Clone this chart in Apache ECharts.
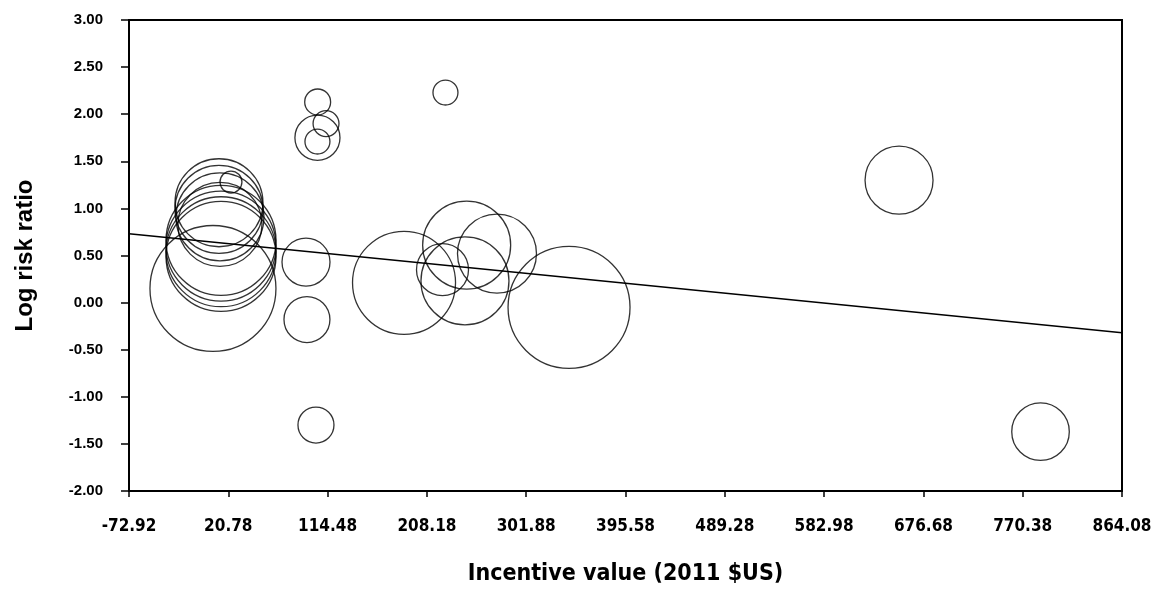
<!DOCTYPE html>
<html>
<head>
<meta charset="utf-8">
<script src="https://cdn.jsdelivr.net/npm/echarts@6/dist/echarts.min.js"></script>
<style>
  html, body { margin: 0; padding: 0; background: #fff; }
  #chart { width: 1156px; height: 591px; }
</style>
</head>
<body>
<div id="chart"></div>
<script>
// Study-level incentive value (2011 $US) and log risk ratio, with study weight
const incentiveValue = [
  6.3, 13.9, 13.9, 13.9, 13.9, 12.0, 12.0, 12.9, 12.9, 23.3,
  105.1, 104.9, 104.9, 113.0, 225.7,
  94.1, 95.0, 103.5,
  186.6, 222.9, 245.7, 244.1, 274.3, 342.3,
  653.7, 787.2
];
const logRiskRatio = [
  0.15, 0.49, 0.54, 0.60, 0.66, 1.06, 0.99, 0.91, 0.83, 1.28,
  2.13, 1.75, 1.71, 1.90, 2.23,
  0.43, -0.18, -1.30,
  0.21, 0.35, 0.61, 0.23, 0.52, -0.05,
  1.30, -1.37
];
const studyWeight = [
  99.2, 75.6, 75.6, 75.6, 75.6, 48.4, 48.4, 48.4, 44.1, 3.0,
  4.2, 12.7, 3.9, 4.2, 3.9,
  14.4, 13.2, 8.1,
  66.3, 16.9, 48.4, 48.4, 39.0, 93.0,
  28.9, 20.7
];

// Fitted meta-regression line at both ends of the axis
const fitX = [-72.92, 864.08];
const fitY = [0.73, -0.32];

// Axis range and tick spacing
const xStart = -72.92;
const xEnd = 864.08;
const xStep = 93.7;
const yStart = -2;
const yEnd = 3;
const yStep = 0.5;

// The x axis is laid out relative to its first tick so ticks land on xStart + k*xStep
const shift = v => v - xStart;

const points = incentiveValue.map((x, i) => [shift(x), logRiskRatio[i], studyWeight[i]]);
const fitLine = fitX.map((x, i) => [shift(x), fitY[i]]);

const chart = echarts.init(document.getElementById('chart'), null, { renderer: 'canvas' });

const labelFont = '"Liberation Sans", Arial, sans-serif';
const narrowFont = '"DejaVu Sans Condensed", "Liberation Sans", sans-serif';

chart.setOption({
  animation: false,
  backgroundColor: '#ffffff',
  grid: {
    left: 129, right: 34, top: 20, bottom: 97,
    show: true, borderColor: '#000', borderWidth: 2, backgroundColor: 'transparent'
  },
  xAxis: {
    type: 'value',
    min: 0,
    max: shift(xEnd),
    interval: xStep,
    name: 'Incentive value (2011 $US)',
    nameLocation: 'middle',
    nameGap: 72,
    nameTextStyle: { fontFamily: narrowFont, fontWeight: 'bold', fontSize: 23, color: '#000' },
    axisLine: { onZero: false, lineStyle: { color: '#000', width: 2 } },
    axisTick: { show: true, inside: false, length: 6, lineStyle: { color: '#000', width: 1.5 } },
    axisLabel: {
      margin: 27,
      fontFamily: narrowFont, fontWeight: 'bold', fontSize: 17, color: '#000',
      formatter: v => (v + xStart).toFixed(2)
    },
    splitLine: { show: false }
  },
  yAxis: {
    type: 'value',
    min: yStart,
    max: yEnd,
    interval: yStep,
    name: 'Log risk ratio',
    nameLocation: 'middle',
    nameRotate: 90,
    nameGap: 92,
    nameTextStyle: { fontFamily: labelFont, fontWeight: 'bold', fontSize: 24, color: '#000' },
    axisLine: { onZero: false, lineStyle: { color: '#000', width: 2 } },
    axisTick: { show: true, inside: false, length: 8, lineStyle: { color: '#000', width: 1.5 } },
    axisLabel: {
      margin: 26,
      fontFamily: labelFont, fontWeight: 'bold', fontSize: 15, color: '#000',
      formatter: v => v.toFixed(2)
    },
    splitLine: { show: false }
  },
  series: [
    {
      type: 'line',
      data: fitLine,
      symbol: 'none',
      silent: true,
      lineStyle: { color: '#000', width: 1.5 },
      z: 2
    },
    {
      type: 'scatter',
      data: points,
      symbol: 'circle',
      symbolSize: d => 2 * Math.sqrt(d[2] * 40),
      silent: true,
      itemStyle: { color: 'rgba(0,0,0,0)', borderColor: '#000', borderWidth: 1.3 },
      emphasis: { disabled: true },
      z: 3
    }
  ]
});
</script>
</body>
</html>
